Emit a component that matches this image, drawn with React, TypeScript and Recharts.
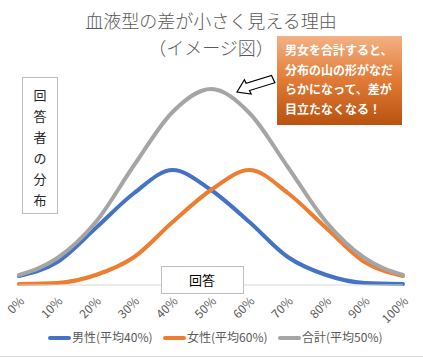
import { Line, LineChart, XAxis, YAxis } from "recharts";

const categories = ["0%", "10%", "20%", "30%", "40%", "50%", "60%", "70%", "80%", "90%", "100%"];
const maleValues = [9, 23, 57, 92, 115, 95, 63, 28, 10, 2, 1];
const femaleValues = [1, 2, 10, 28, 63, 95, 115, 92, 57, 23, 9];
const totalValues = [10, 27, 63, 120, 173, 196, 172, 118, 63, 27, 10];

const seriesNames = ["男性(平均40%)", "女性(平均60%)", "合計(平均50%)"];
const title = "血液型の差が小さく見える理由";
const subtitle = "（イメージ図）";
const yLabel = "回答者の分布";
const xLabel = "回答";
const calloutLines = ["男女を合計すると、", "分布の山の形がなだ", "らかになって、差が", "目立たなくなる！"];

const colors = ["#4472c4", "#ed7d31", "#a5a5a5"];
const font = "'Noto Sans CJK JP', 'Noto Sans', sans-serif";

const data = categories.map((label, i) => ({
  label,
  male: maleValues[i],
  female: femaleValues[i],
  total: totalValues[i],
}));

const RotatedTick = (props: any) => {
  const { x, y, payload } = props;
  const ax = x + 6;
  const ay = y + 9;
  return (
    <text
      x={ax}
      y={ay}
      textAnchor="end"
      fontSize={12}
      fill="#595959"
      fontFamily={font}
      transform={`rotate(-45, ${ax}, ${ay})`}
    >
      {payload.value}
    </text>
  );
};

const legendX = [48, 163, 278];

export default function App() {
  return (
    <div style={{ position: "absolute", left: 0, top: 0, width: 423, height: 357, background: "#fff" }}>
      <LineChart
        width={423}
        height={357}
        data={data}
        margin={{ top: 85, right: 20, bottom: 32, left: 19 }}
      >
        <YAxis hide domain={[0, 200]} />
        <XAxis
          dataKey="label"
          height={40}
          interval={0}
          tickLine={false}
          axisLine={{ stroke: "#d9d9d9" }}
          tick={<RotatedTick />}
        />
        <Line dataKey="male" type="monotone" stroke={colors[0]} strokeWidth={4} dot={false} strokeLinecap="round" isAnimationActive={false} />
        <Line dataKey="female" type="monotone" stroke={colors[1]} strokeWidth={4} dot={false} strokeLinecap="round" isAnimationActive={false} />
        <Line dataKey="total" type="monotone" stroke={colors[2]} strokeWidth={4} dot={false} strokeLinecap="round" isAnimationActive={false} />
      </LineChart>
      <svg
        width={423}
        height={357}
        style={{ position: "absolute", left: 0, top: 0, pointerEvents: "none" }}
        fontFamily={font}
      >
        <defs>
          <linearGradient id="callout" x1="0" y1="0" x2="0" y2="1">
            <stop offset="0%" stopColor="#f4b183" />
            <stop offset="50%" stopColor="#e07a35" />
            <stop offset="100%" stopColor="#b8520f" />
          </linearGradient>
        </defs>
        <text x={211} y={28} textAnchor="middle" fontSize={18} fill="#595959" fontWeight={300}>{title}</text>
        <text x={211} y={55} textAnchor="middle" fontSize={18} fill="#595959" fontWeight={300}>{subtitle}</text>

        <rect x={22.5} y={77.5} width={35} height={136} fill="#fff" stroke="#bfbfbf" />
        {yLabel.split("").map((ch, i) => (
          <text key={i} x={40} y={100 + i * 21} textAnchor="middle" fontSize={13} fill="#262626">{ch}</text>
        ))}

        <rect x={161.5} y={266.5} width={82} height={27} fill="#fff" stroke="#bfbfbf" />
        <text x={202} y={285} textAnchor="middle" fontSize={13} fill="#000">{xLabel}</text>

        <rect x={277} y={36} width={125} height={89} fill="url(#callout)" />
        {calloutLines.map((line, i) => (
          <text key={i} x={285} y={55 + i * 19.5} fontSize={12} fontWeight="bold" fill="#fff">{line}</text>
        ))}

        <polygon
          points="237,92 244.4,79.7 246.1,83.3 271.5,75.5 274.9,82.7 249.5,90.5 251.2,94.1"
          fill="#fff"
          stroke="#000"
          strokeWidth={1.2}
          strokeLinejoin="miter"
        />

        {seriesNames.map((name, i) => (
          <g key={name}>
            <line x1={legendX[i] + 2} y1={338} x2={legendX[i] + 21} y2={338} stroke={colors[i]} strokeWidth={4} strokeLinecap="round" />
            <text x={legendX[i] + 24} y={342} fontSize={12} fill="#595959">{name}</text>
          </g>
        ))}
        <line x1={0} y1={356.5} x2={423} y2={356.5} stroke="#d9d9d9" />
      </svg>
    </div>
  );
}
